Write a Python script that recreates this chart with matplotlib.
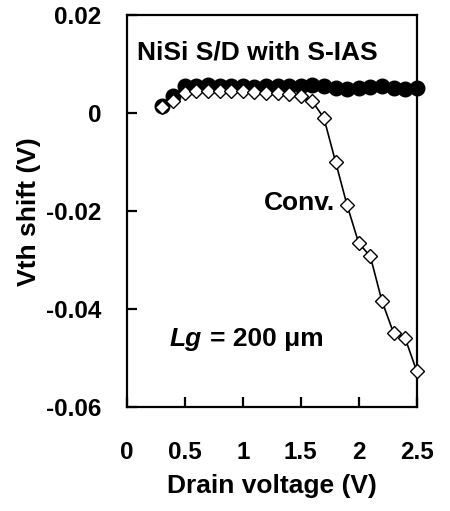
import matplotlib.pyplot as plt
import numpy as np

plt.rcParams['font.family'] = ['Liberation Sans', 'DejaVu Sans']
plt.rcParams['font.weight'] = 'bold'

# data
vd = [0.3, 0.4, 0.5, 0.6, 0.7, 0.8, 0.9, 1.0, 1.1, 1.2, 1.3, 1.4,
      1.5, 1.6, 1.7, 1.8, 1.9, 2.0, 2.1, 2.2, 2.3, 2.4, 2.5]
nisi = [0.0015, 0.0035, 0.0055, 0.0055, 0.0058, 0.0055, 0.0055, 0.0055,
        0.0054, 0.0056, 0.0055, 0.0055, 0.0056, 0.0057, 0.0055, 0.0051,
        0.0050, 0.0052, 0.0054, 0.0056, 0.0052, 0.0050, 0.0052]
conv = [0.0012, 0.0025, 0.0042, 0.0045, 0.0046, 0.0045, 0.0046, 0.0045,
        0.0044, 0.0041, 0.0040, 0.0039, 0.0034, 0.0024, -0.0010, -0.0099,
        -0.0188, -0.0265, -0.0292, -0.0383, -0.0448, -0.0459, -0.0526]

xticks = [0, 0.5, 1, 1.5, 2, 2.5]
xticklabels = ['0', '0.5', '1', '1.5', '2', '2.5']
yticks = [-0.06, -0.04, -0.02, 0, 0.02]
yticklabels = ['-0.06', '-0.04', '-0.02', '0', '0.02']

fig = plt.figure(figsize=(4.5, 5.11), dpi=100)
ax = fig.add_axes([0.2816, 0.2029, 0.6444, 0.7677])

ax.plot(vd, nisi, color='black', lw=1.2, marker='o', ms=10.5,
        mfc='black', mec='black', clip_on=False, zorder=3)
ax.plot(vd, conv, color='black', lw=1.2, marker='D', ms=7.5,
        mfc='white', mec='black', mew=1.0, clip_on=False, zorder=4)

ax.set_xlim(0, 2.5)
ax.set_ylim(-0.06, 0.02)
ax.set_xticks(xticks)
ax.set_xticklabels(xticklabels)
ax.set_yticks(yticks)
ax.set_yticklabels(yticklabels)

for s in ax.spines.values():
    s.set_linewidth(1.6)

ax.tick_params(axis='x', direction='in', length=7, width=1.6,
               labelsize=17.5, pad=24.5)
ax.tick_params(axis='y', direction='in', length=7, width=1.6,
               labelsize=17.5, pad=18)

ax.set_xlabel('Drain voltage (V)', fontsize=19, fontweight='bold', labelpad=7)
ax.set_ylabel('Vth shift (V)', fontsize=19, fontweight='bold', labelpad=4)

ax.text(0.089, 0.0123, 'NiSi S/D with S-IAS', fontsize=19,
        fontweight='bold', va='center', ha='left')
ax.text(1.796, -0.0183, 'Conv.', fontsize=19, fontweight='bold',
        va='center', ha='right')
ax.text(0.373, -0.0461, 'Lg', fontsize=19, fontweight='bold',
        style='italic', va='center', ha='left')
ax.text(0.718, -0.0461, '= 200 \u03bcm', fontsize=19, fontweight='bold',
        va='center', ha='left')

fig.savefig('out.png', dpi=100)
